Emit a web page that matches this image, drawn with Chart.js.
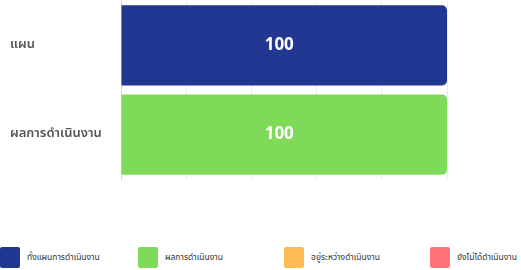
<!DOCTYPE html>
<html>
<head>
<meta charset="utf-8">
<script src="https://cdn.jsdelivr.net/npm/chart.js@4/dist/chart.umd.min.js"></script>
<style>
  html, body { margin: 0; padding: 0; background: #fff; }
  body { width: 521px; height: 270px; position: relative; overflow: hidden; font-family: "Noto Sans Thai", "Noto Sans", "Noto Sans CJK SC", sans-serif; }
  #wrap { position: absolute; left: 0; top: -10px; width: 521px; height: 200px; }
  #legend { position: absolute; left: 0; top: 247px; display: flex; align-items: center; white-space: nowrap; }
  .item { display: flex; align-items: center; }
  .item:nth-child(1) { width: 138px; }
  .item:nth-child(2) { width: 146px; }
  .item:nth-child(3) { width: 146px; }
  .box { width: 20px; height: 21px; border-radius: 2px; margin-right: 7px; }
  .txt { font-size: 8.5px; color: #333; }
</style>
</head>
<body>
<div id="wrap"><canvas id="c"></canvas></div>
<div id="legend"></div>
<script>
const categories = ['แผน', 'ผลการดำเนินงาน'];
const seriesNames = ['ทั้งแผนการดำเนินงาน', 'ผลการดำเนินงาน', 'อยู่ระหว่างดำเนินงาน', 'ยังไม่ได้ดำเนินงาน'];
const planValues = [100, 0];
const doneValues = [0, 100];
const inProgressValues = [0, 0];
const notStartedValues = [0, 0];
const xTicks = [0, 20, 40, 60, 80, 100];

const colors = ['#213792', '#80DA5A', '#FFBB55', '#FF7276'];
const seriesValues = [planValues, doneValues, inProgressValues, notStartedValues];

const valueLabels = {
  id: 'valueLabels',
  afterDatasetsDraw(chart) {
    const ctx = chart.ctx;
    ctx.save();
    ctx.font = 'bold 17px "Noto Sans", "Noto Sans Thai", sans-serif';
    ctx.fillStyle = '#ffffff';
    ctx.textAlign = 'center';
    ctx.textBaseline = 'middle';
    chart.data.datasets.forEach((ds, di) => {
      const meta = chart.getDatasetMeta(di);
      meta.data.forEach((bar, i) => {
        const v = ds.data[i];
        if (!v) return;
        const p = bar.getProps(['x', 'y', 'base'], true);
        ctx.fillText(String(v), (p.x + p.base) / 2 - 5, p.y);
      });
    });
    ctx.restore();
  }
};

new Chart(document.getElementById('c'), {
  type: 'bar',
  data: {
    labels: categories,
    datasets: seriesNames.map((name, i) => ({
      label: name,
      data: seriesValues[i],
      backgroundColor: colors[i],
      borderRadius: 5,
      barPercentage: 0.9,
      categoryPercentage: 1.0
    }))
  },
  options: {
    indexAxis: 'y',
    responsive: true,
    maintainAspectRatio: false,
    animation: false,
    layout: { padding: { left: 10, right: 74, top: 0, bottom: 0 } },
    plugins: { legend: { display: false }, tooltip: { enabled: false } },
    scales: {
      x: {
        stacked: true,
        min: 0,
        max: 100,
        afterBuildTicks(axis) { axis.ticks = xTicks.map(v => ({ value: v })); },
        ticks: { display: false },
        grid: { drawTicks: false, color: 'rgba(0,0,0,0.08)' },
        border: { display: false }
      },
      y: {
        stacked: true,
        afterFit(axis) { axis.width = 111; },
        ticks: {
          crossAlign: 'far',
          color: '#555',
          font: { size: 13, weight: '600', family: '"Noto Sans Thai", "Noto Sans", sans-serif' }
        },
        grid: { display: false },
        border: { display: true, color: 'rgba(0,0,0,0.1)' }
      }
    }
  },
  plugins: [valueLabels]
});

const legend = document.getElementById('legend');
seriesNames.forEach((name, i) => {
  const item = document.createElement('div');
  item.className = 'item';
  const box = document.createElement('div');
  box.className = 'box';
  box.style.background = colors[i];
  const t = document.createElement('span');
  t.className = 'txt';
  t.textContent = name;
  item.appendChild(box);
  item.appendChild(t);
  legend.appendChild(item);
});
</script>
</body>
</html>
